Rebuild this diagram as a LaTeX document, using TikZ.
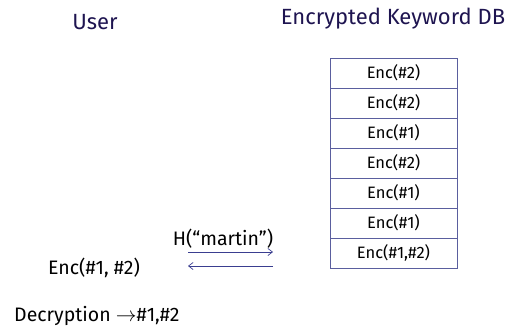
\documentclass[tikz,border=0pt]{standalone}
\usepackage{fontspec}
\setmainfont{Fira Sans}
\usetikzlibrary{arrows.meta}
\definecolor{titlenavy}{HTML}{1E1450}
\definecolor{gridblue}{HTML}{5A5E9E}
\definecolor{arrowblue}{HTML}{3A3E90}
\tikzset{
  title/.style={text=titlenavy, font=\fontsize{22}{26}\selectfont, inner sep=0pt},
  cell/.style={draw=gridblue, line width=0.8pt, minimum width=127pt, minimum height=30pt,
    inner sep=0pt, font=\fontsize{16.5}{19}\selectfont},
  plain/.style={inner sep=0pt, font=\fontsize{19.5}{22}\selectfont},
  msg/.style={draw=arrowblue, line width=0.7pt, -{Straight Barb[length=4.5pt,width=7pt]}}
}
\begin{document}
\begin{tikzpicture}[x=1pt,y=-1pt]
  \useasboundingbox (0,0) rectangle (508,330);
  \node[title] (user) at (95,22) {User};
  \node[title] (db) at (393,19) {Encrypted Keyword DB};
  % encrypted index, one row per entry
  \node[cell] (r1) at (393.5,73)  {Enc(\#2)};
  \node[cell] (r2) at (393.5,103) {Enc(\#2)};
  \node[cell] (r3) at (393.5,133) {Enc(\#1)};
  \node[cell] (r4) at (393.5,163) {Enc(\#2)};
  \node[cell] (r5) at (393.5,193) {Enc(\#1)};
  \node[cell] (r6) at (393.5,223) {Enc(\#1)};
  \node[cell] (r7) at (393.5,253) {Enc(\#1,\#2)};
  % query and response
  \coordinate (qa) at (188,252);
  \coordinate (qb) at (273,252);
  \coordinate (ra) at (273,266);
  \coordinate (rb) at (188,266);
  \draw[msg] (qa) -- (qb);
  \draw[msg] (ra) -- (rb);
  \node[plain] (query) at (223,239) {H(“martin”)};
  \node[plain] (resp) at (94,268) {Enc(\#1, \#2)};
  \node[plain, anchor=west] (dec) at (14,316) {Decryption $\rightarrow$\#1,\#2};
\end{tikzpicture}
\end{document}
